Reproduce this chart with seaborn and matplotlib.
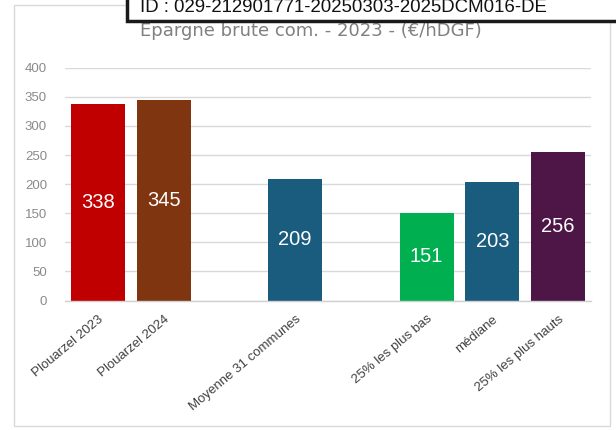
import matplotlib
matplotlib.use("Agg")
import matplotlib.pyplot as plt
import seaborn as sns
import pandas as pd
from matplotlib.patches import Rectangle

categories = ["Plouarzel 2023", "Plouarzel 2024", "Moyenne 31 communes",
              "25% les plus bas", "médiane", "25% les plus hauts"]
values = [338, 345, 209, 151, 203, 256]
slot_order = ["Plouarzel 2023", "Plouarzel 2024", "", "Moyenne 31 communes",
              " ", "25% les plus bas", "médiane", "25% les plus hauts"]
colors = ["#C00000", "#7F3510", "#1A5C7E", "#00B050", "#1A5C7E", "#4E1646"]
y_ticks = [0, 50, 100, 150, 200, 250, 300, 350, 400]
title = "Epargne brute com. - 2023 - (€/hDGF)"
id_text = "ID : 029-212901771-20250303-2025DCM016-DE"

sns.set_theme(style="white")
plt.rcParams['font.family'] = ['Liberation Sans', 'DejaVu Sans']

df = pd.DataFrame({"cat": categories, "val": values})

fig = plt.figure(figsize=(6.16, 4.30), dpi=100)
W, H = 616, 430
ax = fig.add_axes([65 / W, 1 - 300.5 / H, (591 - 65) / W, (300.5 - 67.7) / H])

sns.barplot(data=df, x="cat", y="val", hue="cat", order=slot_order,
            hue_order=categories, palette=dict(zip(categories, colors)),
            width=0.82, legend=False, ax=ax, saturation=1, edgecolor="none")

for c in ax.containers:
    ax.bar_label(c, label_type="center", color="white", fontsize=14.5)

ax.set_ylim(0, 400)
ax.set_xlim(-0.5, 7.5)
ax.set_yticks(y_ticks)
ax.set_yticklabels([str(t) for t in y_ticks], fontsize=9.5, color="#8a8a8a")
ax.tick_params(axis="y", length=0, pad=13)
ax.tick_params(axis="x", length=0, pad=9)
for lbl in ax.get_xticklabels():
    lbl.set_rotation(40)
    lbl.set_ha("right")
    lbl.set_rotation_mode("anchor")
    lbl.set_fontsize(9.5)
    lbl.set_color("#404040")
ax.set_xlabel("")
ax.set_ylabel("")
ax.yaxis.grid(True, color="#d9d9d9", linewidth=1)
ax.set_axisbelow(True)
for s in ["top", "right", "left"]:
    ax.spines[s].set_visible(False)
ax.spines["bottom"].set_color("#d0d0d0")
ax.spines["bottom"].set_linewidth(1)

# outer chart frame
fig.patches.append(Rectangle((14 / W, 1 - 426 / H), (610 - 14) / W, (426 - 5) / H,
                             transform=fig.transFigure, fill=False,
                             edgecolor="#d9d9d9", linewidth=1, zorder=0))
# ID box
fig.patches.append(Rectangle((127 / W, 1 - 20.5 / H), 0.9, 0.2,
                             transform=fig.transFigure, facecolor="white",
                             edgecolor="#1a1a1a", linewidth=2.5, zorder=5))
fig.text(140 / W, 1 - 12 / H, id_text, fontsize=13.4, color="#111111",
         va="baseline", ha="left", zorder=6)

fig.text(311 / W, 1 - 36 / H, title, fontsize=13, color="#808080",
         family=["DejaVu Sans"], ha="center", va="baseline")

fig.savefig("out.png", dpi=100)
